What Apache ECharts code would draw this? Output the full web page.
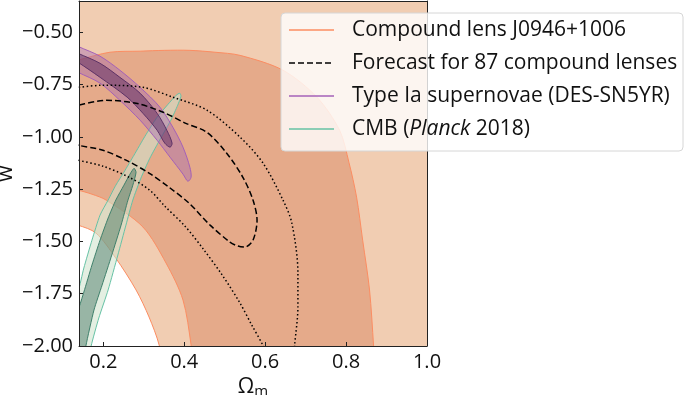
<!DOCTYPE html>
<html>
<head>
<meta charset="utf-8">
<script src="https://cdn.jsdelivr.net/npm/echarts@6.0.0/dist/echarts.min.js"></script>
<style>
  html, body { margin: 0; padding: 0; background: #fff; }
  #chart { width: 685px; height: 395px; }
</style>
</head>
<body>
<div id="chart"></div>
<script>
// axis ranges and ticks
const xMin = 0.14, xMax = 1.0, yMin = -2.0, yMax = -0.35;
const xTicks = [0.2, 0.4, 0.6, 0.8, 1.0];
const yTicks = [-2.0, -1.75, -1.5, -1.25, -1.0, -0.75, -0.5];

// compound lens J0946+1006: 1 sigma band (outer arc, then inner arc back)
const lensOuterArc = [[0.10, -0.655], [0.1375, -0.633], [0.2165, -0.595], [0.291, -0.590], [0.352, -0.586],
  [0.414, -0.586], [0.476, -0.595], [0.538, -0.610], [0.644, -0.681], [0.728, -0.810], [0.784, -0.968],
  [0.807, -1.121], [0.826, -1.288], [0.841, -1.494], [0.858, -1.732], [0.868, -2.0], [0.870, -2.08]];
const lensInnerArc = [[0.42, -2.08], [0.417, -1.995], [0.397, -1.780], [0.355, -1.603], [0.298, -1.431],
  [0.207, -1.302], [0.172, -1.274], [0.1375, -1.255], [0.10, -1.245]];
// compound lens 2 sigma edge (white corner below it)
const lensOuter2s = [[0.10, -1.405], [0.1375, -1.422], [0.182, -1.460], [0.231, -1.580], [0.281, -1.732],
  [0.313, -1.861], [0.338, -1.995], [0.342, -2.08], [0.10, -2.08]];

// forecast for 87 compound lenses
const forecast1s = [[0.12, -0.86], [0.1375, -0.849], [0.207, -0.825], [0.281, -0.839], [0.348, -0.882],
  [0.404, -0.935], [0.456, -0.978], [0.505, -1.078], [0.545, -1.193], [0.570, -1.302], [0.580, -1.398],
  [0.570, -1.494], [0.550, -1.527], [0.533, -1.522], [0.513, -1.503], [0.464, -1.422], [0.412, -1.317],
  [0.362, -1.240], [0.313, -1.173], [0.256, -1.111], [0.199, -1.064], [0.1375, -1.040], [0.12, -1.033]];
const forecast2sA = [[0.12, -0.767], [0.1375, -0.763], [0.199, -0.753], [0.298, -0.763], [0.372, -0.810],
  [0.456, -0.872], [0.538, -1.001], [0.595, -1.126], [0.644, -1.302], [0.666, -1.412], [0.681, -1.651],
  [0.681, -1.814], [0.673, -1.995], [0.672, -2.03]];
const forecast2sB = [[0.12, -1.10], [0.1375, -1.111], [0.199, -1.140], [0.264, -1.193], [0.315, -1.255],
  [0.352, -1.331], [0.402, -1.427], [0.449, -1.541], [0.494, -1.661], [0.538, -1.795], [0.567, -1.900],
  [0.594, -1.995], [0.60, -2.03]];

// CMB (Planck 2018)
const cmb2s = [[0.389, -0.791], [0.392, -0.805], [0.384, -0.848], [0.367, -0.920], [0.342, -1.006],
  [0.315, -1.102], [0.293, -1.197], [0.273, -1.302], [0.256, -1.422], [0.236, -1.565], [0.212, -1.732],
  [0.189, -1.866], [0.170, -2.0], [0.167, -2.06], [0.10, -2.06], [0.12, -1.82], [0.1375, -1.742],
  [0.152, -1.627], [0.172, -1.494], [0.192, -1.374], [0.212, -1.302], [0.231, -1.231], [0.251, -1.169],
  [0.276, -1.087], [0.303, -0.997], [0.333, -0.906], [0.360, -0.844], [0.380, -0.801]];
const cmb1s = [[0.276, -1.150], [0.281, -1.169], [0.273, -1.231], [0.261, -1.302], [0.244, -1.422],
  [0.221, -1.565], [0.197, -1.709], [0.177, -1.828], [0.157, -2.0], [0.154, -2.06], [0.10, -2.06],
  [0.125, -1.86], [0.1375, -1.828], [0.152, -1.742], [0.172, -1.613], [0.192, -1.494], [0.212, -1.388],
  [0.231, -1.302], [0.251, -1.231], [0.266, -1.178]];

// Type Ia supernovae (DES-SN5YR)
const sn2s = [[0.123, -0.552], [0.1375, -0.567], [0.192, -0.614], [0.241, -0.681], [0.291, -0.763],
  [0.340, -0.858], [0.372, -0.954], [0.397, -1.049], [0.414, -1.145], [0.417, -1.193], [0.409, -1.212],
  [0.397, -1.178], [0.365, -1.097], [0.333, -1.016], [0.291, -0.920], [0.241, -0.825], [0.192, -0.743],
  [0.1375, -0.691], [0.123, -0.677]];
const sn1s = [[0.123, -0.586], [0.1375, -0.600], [0.192, -0.648], [0.241, -0.715], [0.291, -0.791],
  [0.333, -0.887], [0.357, -0.968], [0.370, -1.030], [0.365, -1.049], [0.352, -1.030], [0.333, -0.968],
  [0.298, -0.887], [0.259, -0.810], [0.192, -0.715], [0.1375, -0.643], [0.123, -0.629]];

const legendNames = ['Compound lens J0946+1006', 'Forecast for 87 compound lenses',
  'Type Ia supernovae (DES-SN5YR)', 'CMB (Planck 2018)'];

const FONT = 'Open Sans';

function area(pts, fill, stroke, z, smooth) {
  return {
    type: 'custom',
    coordinateSystem: 'cartesian2d',
    clip: true,
    silent: true,
    z: z,
    data: [[0.5, -1]],
    renderItem: function (params, api) {
      return {
        type: 'polygon',
        shape: { points: pts.map(function (p) { return api.coord(p); }), smooth: smooth },
        style: { fill: fill, stroke: stroke || null, lineWidth: 1 }
      };
    }
  };
}

function contour(pts, dash) {
  return {
    type: 'line',
    data: pts,
    smooth: 0.3,
    symbol: 'none',
    clip: true,
    silent: true,
    z: 9,
    lineStyle: { color: '#000', width: 1.5, type: dash }
  };
}

const chart = echarts.init(document.getElementById('chart'));

const spine = { show: true, onZero: false, lineStyle: { color: '#222', width: 1 } };

// legend drawn by hand, matplotlib style
const rowY = [30, 63, 96, 129];
const legendItems = [
  { type: 'rect', z: 100, shape: { x: 281, y: 13, width: 402, height: 138, r: 4 },
    style: { fill: 'rgba(255,255,255,0.8)', stroke: '#d6d6d6', lineWidth: 1 } },
  { type: 'line', z: 101, shape: { x1: 289, y1: rowY[0], x2: 334, y2: rowY[0] }, style: { stroke: '#fc8d62', lineWidth: 1.5 } },
  { type: 'line', z: 101, shape: { x1: 289, y1: rowY[1], x2: 334, y2: rowY[1] }, style: { stroke: '#000', lineWidth: 1.5, lineDash: [6, 3] } },
  { type: 'line', z: 101, shape: { x1: 289, y1: rowY[2], x2: 334, y2: rowY[2] }, style: { stroke: '#a460b8', lineWidth: 1.5 } },
  { type: 'line', z: 101, shape: { x1: 289, y1: rowY[3], x2: 334, y2: rowY[3] }, style: { stroke: '#66c2a5', lineWidth: 1.5 } }
];
for (let i = 0; i < 3; i++) {
  legendItems.push({ type: 'text', z: 101, x: 352, y: rowY[i],
    style: { text: legendNames[i], fontFamily: FONT, fontSize: 21, fill: '#111', verticalAlign: 'middle' } });
}
legendItems.push({ type: 'text', z: 101, x: 352, y: rowY[3],
  style: { text: '{a|CMB (}{i|Planck}{a| 2018)}', fill: '#111', verticalAlign: 'middle',
    rich: { a: { fontFamily: FONT, fontSize: 21, fill: '#111' },
            i: { fontFamily: FONT, fontSize: 21, fontStyle: 'italic', fill: '#111' } } } });

chart.setOption({
  animation: false,
  grid: { left: 79, right: 258, top: 1, bottom: 49, containLabel: false, outerBoundsMode: 'none' },
  xAxis: [{
    type: 'value', min: xMin, max: xMax, position: 'bottom', z: 10,
    axisLine: spine,
    axisTick: { show: true, inside: true, length: 4, customValues: xTicks, lineStyle: { color: '#222' } },
    axisLabel: { customValues: xTicks, formatter: function (v) { return v.toFixed(1); },
      fontFamily: FONT, fontSize: 20, color: '#111', margin: 6 },
    splitLine: { show: false },
    name: '{a|Ω}{b|m}', nameLocation: 'middle', nameGap: 21,
    nameTextStyle: { fontFamily: FONT, color: '#111', rich: {
      a: { fontFamily: FONT, fontSize: 21, color: '#111' },
      b: { fontFamily: FONT, fontSize: 15, color: '#111', padding: [8, 0, 0, 0] } } }
  }, {
    type: 'value', min: xMin, max: xMax, position: 'top', z: 10,
    axisLine: spine, axisTick: { show: false }, axisLabel: { show: false }, splitLine: { show: false }
  }],
  yAxis: [{
    type: 'value', min: yMin, max: yMax, position: 'left', z: 10,
    axisLine: spine,
    axisTick: { show: true, inside: true, length: 4, customValues: yTicks, lineStyle: { color: '#222' } },
    axisLabel: { customValues: yTicks,
      formatter: function (v) { return (v < 0 ? '\u2212' : '') + Math.abs(v).toFixed(2); },
      fontFamily: FONT, fontSize: 20, color: '#111', margin: 6 },
    splitLine: { show: false },
    name: 'w', nameLocation: 'middle', nameRotate: 90, nameGap: 62, nameMoveOverlap: false,
    nameTextStyle: { fontFamily: FONT, fontSize: 21, color: '#111' }
  }, {
    type: 'value', min: yMin, max: yMax, position: 'right', z: 10,
    axisLine: spine, axisTick: { show: false }, axisLabel: { show: false }, splitLine: { show: false }
  }],
  series: [
    area([[0.10, -2.1], [1.05, -2.1], [1.05, -0.3], [0.10, -0.3]], '#f1cdb2', null, 1, 0),
    area(lensOuter2s, '#ffffff', '#fc8d62', 2, 0.3),
    area(lensOuterArc.concat(lensInnerArc), '#e5aa8a', '#fc8d62', 3, 0.3),
    area(cmb2s, 'rgba(208,228,205,0.58)', '#66c2a5', 5, 0.2),
    area(cmb1s, 'rgba(60,110,90,0.45)', '#3f806b', 6, 0.2),
    area(sn2s, 'rgba(160,100,180,0.4)', '#a460b8', 7, 0.3),
    area(sn1s, 'rgba(80,30,90,0.45)', '#5d3266', 8, 0.3),
    contour(forecast1s, [6, 3]),
    contour(forecast2sA, [1.5, 2.5]),
    contour(forecast2sB, [1.5, 2.5])
  ],
  graphic: legendItems
});
</script>
</body>
</html>
